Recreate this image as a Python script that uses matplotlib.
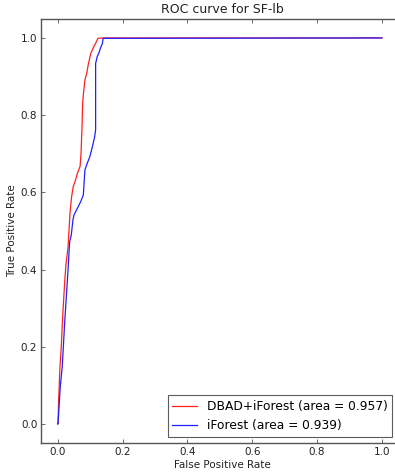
import matplotlib

matplotlib.use("Agg")
import matplotlib.pyplot as plt

TITLE = "ROC curve for SF-lb"

# ROC points for DBAD+iForest
dbad_fpr = [0.0, 0.001, 0.003, 0.007, 0.011, 0.016, 0.022, 0.025, 0.032, 0.038,
            0.043, 0.048, 0.055, 0.061, 0.069, 0.072, 0.075, 0.077, 0.080, 0.084,
            0.090, 0.094, 0.102, 0.110, 0.117, 0.124, 0.142, 1.0]
dbad_tpr = [0.0, 0.0, 0.062, 0.148, 0.200, 0.288, 0.373, 0.408, 0.459, 0.547,
            0.589, 0.615, 0.632, 0.650, 0.667, 0.700, 0.770, 0.832, 0.860, 0.891,
            0.910, 0.930, 0.960, 0.975, 0.986, 0.999, 1.0, 1.0]
dbad_auc = 0.957

# ROC points for plain iForest
if_fpr = [0.0, 0.001, 0.008, 0.014, 0.022, 0.030, 0.037, 0.042, 0.047, 0.050,
          0.061, 0.071, 0.079, 0.082, 0.084, 0.091, 0.099, 0.107, 0.114, 0.117,
          0.117, 0.122, 0.127, 0.132, 0.138, 0.140, 1.0]
if_tpr = [0.0, 0.0, 0.097, 0.148, 0.269, 0.373, 0.472, 0.490, 0.528, 0.541,
          0.559, 0.576, 0.593, 0.632, 0.658, 0.675, 0.692, 0.718, 0.744, 0.762,
          0.934, 0.952, 0.961, 0.974, 0.986, 0.999, 1.0]
if_auc = 0.939

plt.rcParams["font.family"] = "DejaVu Sans"

fig = plt.figure(figsize=(3.95, 4.72), dpi=100)
# right edge of the axes runs just past the figure border
ax = fig.add_axes([0.105, 0.061, 0.915, 0.8995])

ax.plot(dbad_fpr, dbad_tpr, color="#ff2020", linewidth=0.9,
        label=f"DBAD+iForest (area = {dbad_auc:.3f})")
ax.plot(if_fpr, if_tpr, color="#2020ff", linewidth=0.9,
        label=f"iForest (area = {if_auc:.3f})")

ax.set_xlim(-0.05, 1.0646)
ax.set_ylim(-0.05, 1.05)
ax.set_xticks([0.0, 0.2, 0.4, 0.6, 0.8, 1.0])
ax.set_yticks([0.0, 0.2, 0.4, 0.6, 0.8, 1.0])
ax.tick_params(direction="in", top=True, right=False, labelsize=7.5,
               length=3, width=0.6, color="#555555", labelcolor="#222222", pad=3)
for spine in ax.spines.values():
    spine.set_color("#555555")
    spine.set_linewidth(1.0)
ax.spines["right"].set_visible(False)

ax.set_xlabel("False Positive Rate", fontsize=7.5, labelpad=2, color="#222222")
ax.set_ylabel("True Positive Rate", fontsize=7.5, labelpad=3, color="#222222")
ax.set_title(TITLE, fontsize=9, pad=4, color="#222222")

leg = ax.legend(loc="lower right", fontsize=8.8, fancybox=False,
                borderaxespad=0.5, handlelength=2.0, bbox_to_anchor=(0.988, 0.0))
leg.get_frame().set_edgecolor("#333333")
leg.get_frame().set_linewidth(0.8)

fig.savefig("out.png", dpi=100)
